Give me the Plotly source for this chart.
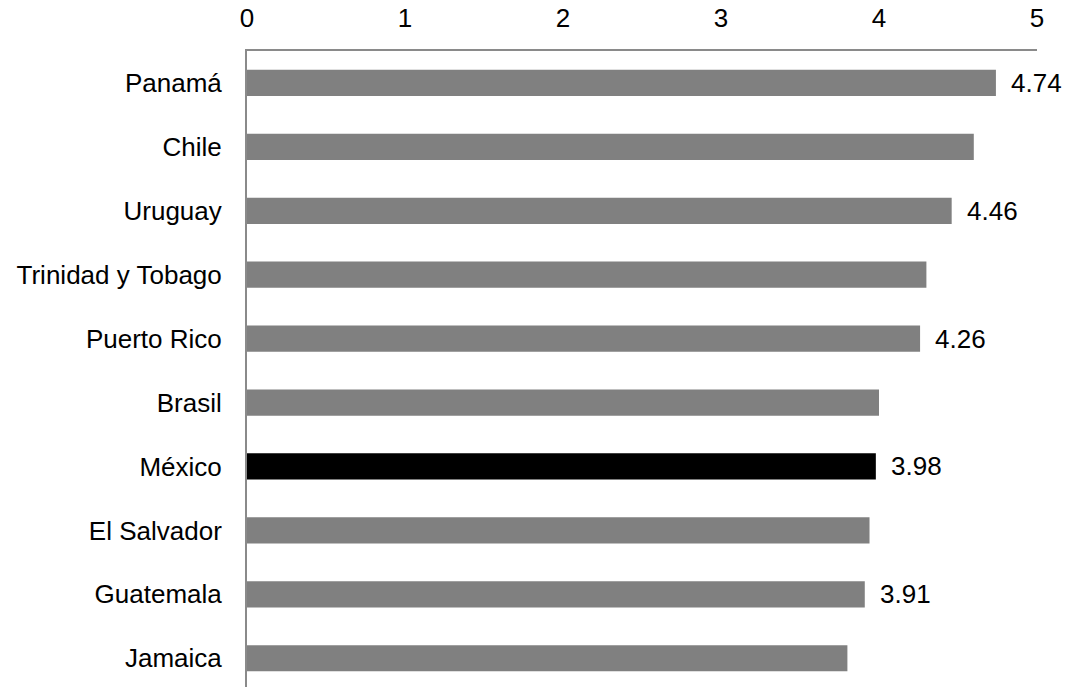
import plotly.graph_objects as go

# Index values per country (top to bottom)
countries = ["Panamá", "Chile", "Uruguay", "Trinidad y Tobago", "Puerto Rico",
             "Brasil", "México", "El Salvador", "Guatemala", "Jamaica"]
values = [4.74, 4.60, 4.46, 4.30, 4.26, 4.00, 3.98, 3.94, 3.91, 3.80]
labelled = ["Panamá", "Uruguay", "Puerto Rico", "México", "Guatemala"]
highlight = "México"
x_ticks = [0, 1, 2, 3, 4, 5]

FONT = "Arial, Liberation Sans, sans-serif"
FS = 26

colors = ["#000000" if c == highlight else "#808080" for c in countries]

fig = go.Figure(go.Bar(
    x=values,
    y=countries,
    orientation="h",
    width=0.41,
    marker=dict(color=colors, line=dict(width=0)),
    hoverinfo="x+y",
))

# value labels to the right of selected bars
for c, v in zip(countries, values):
    if c in labelled:
        fig.add_annotation(
            x=v, y=c, text=f"{v:.2f}", showarrow=False,
            xanchor="left", yanchor="middle", xshift=13,
            font=dict(family=FONT, size=FS, color="#000000"),
        )

fig.update_layout(
    width=1070, height=687,
    margin=dict(l=247, r=33, t=51, b=0),
    paper_bgcolor="white", plot_bgcolor="white",
    showlegend=False,
    font=dict(family=FONT, size=FS, color="#000000"),
    xaxis=dict(
        side="top", range=[0, 5], tickvals=x_ticks,
        ticktext=[str(t) for t in x_ticks],
        showgrid=False, zeroline=False,
        showline=True, linecolor="#8a8a8a", linewidth=2,
        ticks="", ticklabelstandoff=12,
        tickfont=dict(family=FONT, size=FS, color="#000000"),
    ),
    yaxis=dict(
        type="category", categoryorder="array", categoryarray=countries,
        range=[9.45, -0.5],
        showgrid=False, zeroline=False,
        showline=True, linecolor="#8a8a8a", linewidth=2,
        ticks="", ticklabelstandoff=18,
        tickfont=dict(family=FONT, size=FS, color="#000000"),
    ),
)

fig.write_html("out.html")
